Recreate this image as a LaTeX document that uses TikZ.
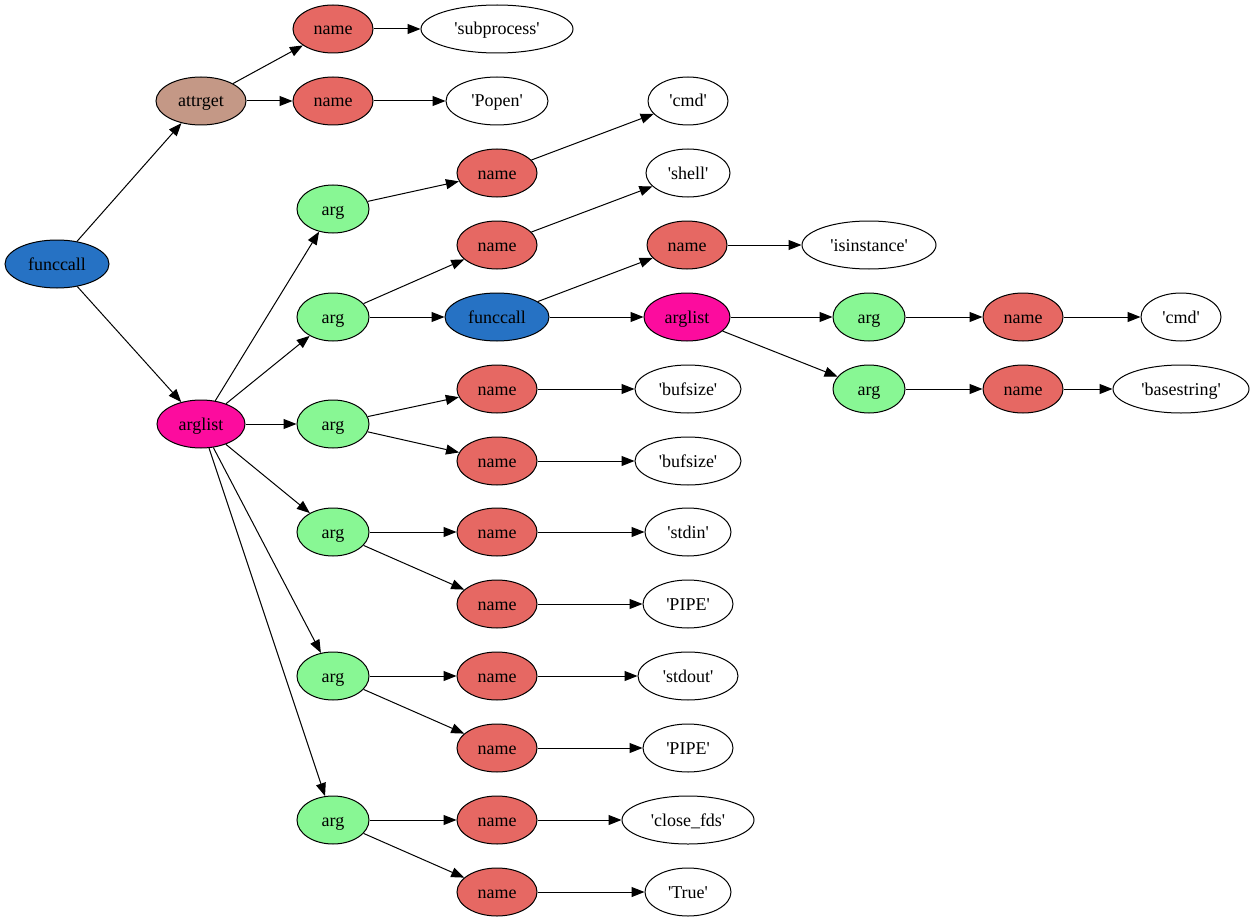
\documentclass[tikz,border=0pt]{standalone}
\usepackage{fontspec}
\setmainfont[Ligatures=TeXReset]{Liberation Serif}
\usetikzlibrary{shapes.geometric,arrows.meta}
\definecolor{cfunc}{HTML}{2672C4}
\definecolor{cname}{HTML}{E66863}
\definecolor{cattr}{HTML}{C49886}
\definecolor{carglist}{HTML}{FC0C9E}
\definecolor{carg}{HTML}{88F794}
\newcommand{\qq}{\char"0027\relax}
\tikzset{
  nd/.style={ellipse,draw=black,line width=1pt,inner sep=0pt,minimum height=48pt,text height=14pt,text depth=2pt,font=\fontsize{18}{20}\selectfont},
  funcn/.style={nd,fill=cfunc,minimum width=104pt},
  namen/.style={nd,fill=cname,minimum width=80pt},
  attrn/.style={nd,fill=cattr,minimum width=90pt},
  arglistn/.style={nd,fill=carglist,minimum width=88pt},
  argn/.style={nd,fill=carg,minimum width=72pt},
  strn/.style={nd,fill=white},
  edge/.style={draw,line width=1pt,-{Triangle[length=13pt,width=10pt]}}
}
\begin{document}
\begin{tikzpicture}[x=1pt,y=-1pt]
\useasboundingbox (0,0) rectangle (1256,923);
\node[funcn] (root) at (57,264) {funccall};
\node[attrn] (attr) at (201,101) {attrget};
\node[namen] (n1) at (333,29) {name};
\node[strn,minimum width=152pt] (s1) at (497,29) {\qq subprocess\qq};
\node[namen] (n2) at (333,101) {name};
\node[strn,minimum width=102pt] (s2) at (497,101) {\qq Popen\qq};
\node[arglistn] (al) at (201,424) {arglist};
\node[argn] (a1) at (333,209) {arg};
\node[namen] (a1n) at (497,173) {name};
\node[strn,minimum width=80pt] (a1s) at (688,101) {\qq cmd\qq};
\node[argn] (a2) at (333,317) {arg};
\node[namen] (a2n) at (497,245) {name};
\node[strn,minimum width=84pt] (a2s) at (688,173) {\qq shell\qq};
\node[funcn] (fc2) at (497,317) {funccall};
\node[namen] (fcn) at (687,245) {name};
\node[strn,minimum width=134pt] (fcs) at (869,245) {\qq isinstance\qq};
\node[arglistn,minimum width=86pt] (al2) at (687,317) {arglist};
\node[argn] (b1) at (869,317) {arg};
\node[namen] (b1n) at (1023,317) {name};
\node[strn,minimum width=80pt] (b1s) at (1181,317) {\qq cmd\qq};
\node[argn] (b2) at (869,389) {arg};
\node[namen] (b2n) at (1023,389) {name};
\node[strn,minimum width=136pt] (b2s) at (1181,389) {\qq basestring\qq};
\node[argn] (a3) at (333,424) {arg};
\node[namen] (a3n1) at (497,389) {name};
\node[strn,minimum width=106pt] (a3s1) at (688,389) {\qq bufsize\qq};
\node[namen] (a3n2) at (497,461) {name};
\node[strn,minimum width=106pt] (a3s2) at (688,461) {\qq bufsize\qq};
\node[argn] (a4) at (333,532) {arg};
\node[namen] (a4n1) at (497,532) {name};
\node[strn,minimum width=86pt] (a4s1) at (688,532) {\qq stdin\qq};
\node[namen] (a4n2) at (497,604) {name};
\node[strn,minimum width=90pt] (a4s2) at (688,604) {\qq PIPE\qq};
\node[argn] (a5) at (333,676) {arg};
\node[namen] (a5n1) at (497,676) {name};
\node[strn,minimum width=100pt] (a5s1) at (688,676) {\qq stdout\qq};
\node[namen] (a5n2) at (497,748) {name};
\node[strn,minimum width=90pt] (a5s2) at (688,748) {\qq PIPE\qq};
\node[argn] (a6) at (333,820) {arg};
\node[namen] (a6n1) at (497,820) {name};
\node[strn,minimum width=132pt] (a6s1) at (688,820) {\qq close\_fds\qq};
\node[namen] (a6n2) at (497,892) {name};
\node[strn,minimum width=86pt] (a6s2) at (688,892) {\qq True\qq};
\path[edge] (root) -- (attr);
\path[edge] (root) -- (al);
\path[edge] (attr) -- (n1);
\path[edge] (attr) -- (n2);
\path[edge] (n1) -- (s1);
\path[edge] (n2) -- (s2);
\path[edge] (al) -- (a1);
\path[edge] (al) -- (a2);
\path[edge] (al) -- (a3);
\path[edge] (al) -- (a4);
\path[edge] (al) -- (a5);
\path[edge] (al) -- (a6);
\path[edge] (a1) -- (a1n);
\path[edge] (a1n) -- (a1s);
\path[edge] (a2) -- (a2n);
\path[edge] (a2n) -- (a2s);
\path[edge] (a2) -- (fc2);
\path[edge] (fc2) -- (fcn);
\path[edge] (fcn) -- (fcs);
\path[edge] (fc2) -- (al2);
\path[edge] (al2) -- (b1);
\path[edge] (b1) -- (b1n);
\path[edge] (b1n) -- (b1s);
\path[edge] (al2) -- (b2);
\path[edge] (b2) -- (b2n);
\path[edge] (b2n) -- (b2s);
\path[edge] (a3) -- (a3n1);
\path[edge] (a3n1) -- (a3s1);
\path[edge] (a3) -- (a3n2);
\path[edge] (a3n2) -- (a3s2);
\path[edge] (a4) -- (a4n1);
\path[edge] (a4n1) -- (a4s1);
\path[edge] (a4) -- (a4n2);
\path[edge] (a4n2) -- (a4s2);
\path[edge] (a5) -- (a5n1);
\path[edge] (a5n1) -- (a5s1);
\path[edge] (a5) -- (a5n2);
\path[edge] (a5n2) -- (a5s2);
\path[edge] (a6) -- (a6n1);
\path[edge] (a6n1) -- (a6s1);
\path[edge] (a6) -- (a6n2);
\path[edge] (a6n2) -- (a6s2);
\end{tikzpicture}
\end{document}
